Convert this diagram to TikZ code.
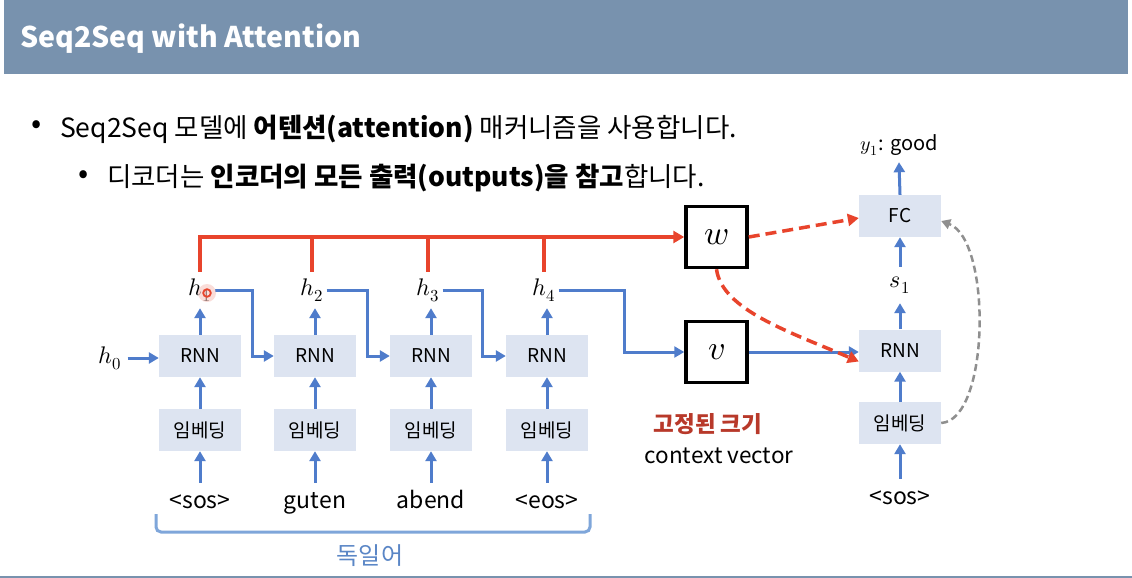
\documentclass[tikz,border=0pt]{standalone}
\usepackage{fontspec}
\usepackage{unicode-math}
\setmathfont{Latin Modern Math}
\newfontfamily\kr{Noto Sans CJK KR}
\usetikzlibrary{arrows.meta}
\definecolor{headbg}{HTML}{7892AE}
\definecolor{boxbg}{HTML}{DDE4F1}
\definecolor{flow}{HTML}{4F7CCB}
\definecolor{attn}{HTML}{E8442C}
\definecolor{fixed}{HTML}{B8392A}
\definecolor{bracecol}{HTML}{7FA6DA}
\definecolor{lang}{HTML}{5A86C6}
\definecolor{skip}{HTML}{8F8F8F}
\tikzset{
  cell/.style={fill=boxbg, minimum width=82pt, minimum height=42pt, inner sep=0pt,
    font=\kr\fontsize{19}{22}\selectfont},
  weight/.style={draw=black, line width=3.5pt, minimum size=61pt, inner sep=0pt,
    font=\fontsize{34}{38}\selectfont},
  token/.style={font=\kr\fontsize{23}{26}\selectfont, text height=17pt, text depth=5pt,
    inner xsep=0pt, inner ysep=8pt},
  hid/.style={font=\fontsize{24}{28}\selectfont, minimum height=36pt, inner sep=3pt},
  flowarrow/.style={draw=flow, line width=3pt, -{Triangle[length=10pt,width=11pt]}},
  attnline/.style={draw=attn, line width=3.5pt},
  attnarrow/.style={attnline, -{Triangle[length=11pt,width=12pt]}},
  attndash/.style={attnarrow, dash pattern=on 11pt off 6pt},
  skiparrow/.style={draw=skip, line width=2.5pt, dash pattern=on 7pt off 4pt,
    -{Triangle[length=9pt,width=10pt]}},
  bodytext/.style={font=\kr\fontsize{26.5}{30}\selectfont, inner sep=0pt, anchor=base west},
  dot/.style={font=\kr\fontsize{30}{30}\selectfont, inner sep=0pt},
}
\begin{document}
\begin{tikzpicture}[x=1pt,y=-1pt]
\useasboundingbox (0,0) rectangle (1132,578);
\fill[white] (0,0) rectangle (1132,578);

% title bar and bottom rule
\fill[headbg] (4,0) rectangle (1128,74);
\node[font=\kr\bfseries\fontsize{28.5}{32}\selectfont, text=white, inner sep=0pt, anchor=base west]
  (title) at (20,48) {Seq2Seq with Attention};
\fill[headbg] (0,575.5) rectangle (1132,578);

% bullet text
\node[dot] (b1) at (37,127) {•};
\node[bodytext] (t1) at (60,137)
  {Seq2Seq 모델에 \textbf{어텐션(attention)} 매커니즘을 사용합니다.};
\node[dot] (b2) at (84,177) {•};
\node[bodytext] (t2) at (107,186)
  {디코더는 \textbf{인코더의 모든 출력(outputs)을 참고}합니다.};

% encoder columns
\foreach \i/\x/\hx/\tk in {1/200/200/{<sos>},2/315/312/{guten},3/431/428/{abend},4/547/544/{<eos>}}{
  \node[cell] (rnn\i) at (\x,356) {RNN};
  \node[cell] (emb\i) at (\x,430) {임베딩};
  \node[token, anchor=base] (tok\i) at (\x,508) {\tk};
  \node[hid] (h\i) at (\hx,290) {$h_{\i}$};
  \draw[flowarrow] (tok\i.north) -- (emb\i.south);
  \draw[flowarrow] (emb\i.north) -- (rnn\i.south);
  \draw[flowarrow] (rnn\i.north) -- (rnn\i.north |- h\i.south);
}
\node[hid] (h0) at (110,358) {$h_{0}$};
\draw[flowarrow] ([xshift=3pt]h0.east) -- (rnn1.west |- h0.east);

% weight boxes
\node[weight] (wbox) at (716.5,237) {$w$};
\node[weight] (vbox) at (716.5,352) {$v$};

% hidden state hand-over to the next step
\draw[flowarrow] (h1.east) -| ([xshift=-21pt]rnn2.west) -- (rnn2.west);
\draw[flowarrow] (h2.east) -| ([xshift=-22pt]rnn3.west) -- (rnn3.west);
\draw[flowarrow] (h3.east) -| ([xshift=-23pt]rnn4.west) -- (rnn4.west);
\draw[flowarrow] (h4.east) -| ([xshift=-60pt]vbox.west) -- (vbox.west);

% all encoder outputs feed the attention weights
\draw[attnarrow] (h1.north) |- (wbox.west);
\foreach \i in {2,3,4}{
  \draw[attnline] (h\i.north) -- (h\i.north |- wbox.west);
}

% pointer highlight
\fill[attn!30, opacity=0.6] (207,293) circle (9pt);
\draw[attn, line width=1.8pt] (207,293) circle (3.8pt);

% encoder bracket and language label
\draw[bracecol, line width=3pt, rounded corners=5pt]
  (156,514) -- (156,532) -- (590,532) -- (590,514);
\node[font=\kr\fontsize{24}{28}\selectfont, text=lang, inner sep=0pt] (de) at (370,556) {독일어};

% context vector caption
\node[font=\kr\bfseries\fontsize{22.5}{26}\selectfont, text=fixed, inner sep=0pt] (fx) at (708,424) {고정된 크기};
\node[font=\kr\fontsize{22.5}{26}\selectfont, inner sep=0pt] (cv) at (719,456) {context vector};

% decoder column
\node[cell] (fc) at (900,216) {FC};
\node[cell] (drnn) at (900,350.5) {RNN};
\node[cell] (demb) at (900,423) {임베딩};
\node[token, anchor=base] (dtok) at (900,504) {<sos>};
\node[hid] (s1) at (900,285) {$s_{1}$};
\node[font=\kr\fontsize{20}{24}\selectfont, minimum height=34pt, inner sep=0pt] (y1) at (899,145)
  {$y_{1}$\kern1pt: good};
\draw[flowarrow] (dtok.north) -- (demb.south);
\draw[flowarrow] (demb.north) -- (drnn.south);
\draw[flowarrow] (drnn.north) -- (s1.south);
\draw[flowarrow] (s1.north) -- (fc.south);
\draw[flowarrow] (fc.north) -- (y1.south);

% context into decoder, attention links, embedding skip
\draw[flowarrow] (vbox.east) -- (drnn.west |- vbox.east);
\draw[attndash] (wbox.east) -- ([yshift=-2pt]fc.west);
\draw[attndash] (wbox.south) .. controls (722,310) and (790,332) .. ([yshift=-11pt]drnn.west);
\draw[skiparrow] (demb.east) .. controls (990,420) and (992,240) .. ([yshift=-5pt]fc.east);
\end{tikzpicture}
\end{document}
